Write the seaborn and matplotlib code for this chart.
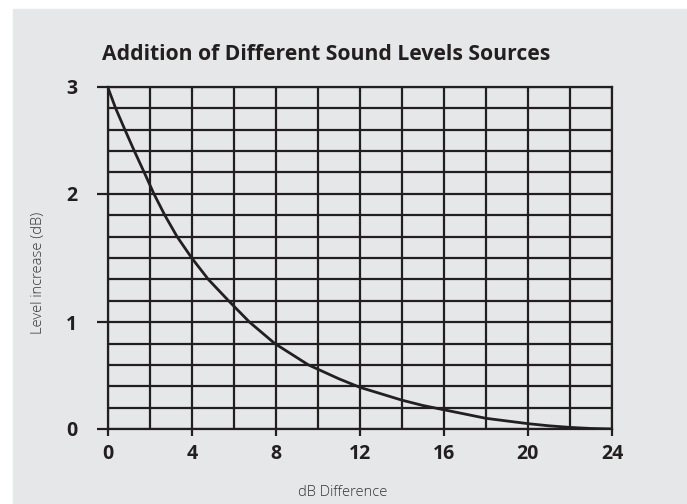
import numpy as np
import pandas as pd
import matplotlib.pyplot as plt
import seaborn as sns
from matplotlib.patches import Rectangle

# values
db_difference = [0, 0.38, 0.82, 1.27, 1.74, 2.2, 2.72, 3.3, 4.0, 4.79, 5.75, 6.75, 7.95, 9.55,
                 11, 12, 13, 14, 15, 16, 17, 18, 19, 20, 21, 22, 23, 24]
level_increase = [3.0, 2.8, 2.6, 2.4, 2.2, 2.0, 1.833, 1.667, 1.5, 1.333, 1.167, 1.0, 0.8, 0.6,
                  0.47, 0.39, 0.33, 0.27, 0.22, 0.18, 0.14, 0.10, 0.075, 0.05, 0.03, 0.015, 0.005, 0.0]

x_ticks = [0, 4, 8, 12, 16, 20, 24]
x_grid = [0, 2, 4, 6, 8, 10, 12, 14, 16, 18, 20, 22, 24]

# the printed y axis is not linear: 16 equal rows, labels 0,1,2,3 sit on rows 0,5,11,16
y_ticks = [0, 1, 2, 3]
y_rows = [0, 5, 11, 16]

ink = "#231f20"
panel = "#e6e7e8"

sns.set_theme(style="white")
plt.rcParams["font.family"] = ["Open Sans", "DejaVu Sans"]

df = pd.DataFrame({"diff": db_difference, "inc": level_increase})

fig = plt.figure(figsize=(6.87, 5.04), dpi=100)
fig.patch.set_facecolor("white")
fig.add_artist(Rectangle((13 / 687, 0), 1 - 13 / 687, 1 - 9 / 504,
                         transform=fig.transFigure, color=panel, zorder=-10))

ax = fig.add_axes([107.7 / 687, 75 / 504, (612 - 107.7) / 687, (429 - 87) / 504])
ax.set_facecolor(panel)

fwd = lambda v: np.interp(v, y_ticks, y_rows)
inv = lambda r: np.interp(r, y_rows, y_ticks)
ax.set_yscale("function", functions=(fwd, inv))

sns.lineplot(data=df, x="diff", y="inc", color=ink, lw=2.0, ax=ax, zorder=5)

ax.set_xlim(0, 24)
ax.set_ylim(0, 3)
ax.set_xticks(x_ticks)
ax.set_xticks(x_grid, minor=True)
ax.set_yticks(y_ticks)
ax.set_yticks(inv(np.arange(17)), minor=True)
ax.set_xticklabels([str(t) for t in x_ticks])
ax.set_yticklabels([str(t) for t in y_ticks])

ax.grid(which="both", color=ink, lw=1.6)
ax.tick_params(axis="y", which="major", length=8, width=1.6, color=ink, pad=14,
               labelsize=14, labelcolor=ink, left=True)
ax.tick_params(axis="x", which="major", length=5, width=1.6, color=ink, pad=6,
               labelsize=14, labelcolor=ink, bottom=True)
ax.tick_params(which="minor", length=0)
for lab in ax.get_xticklabels() + ax.get_yticklabels():
    lab.set_fontweight("bold")
for s in ax.spines.values():
    s.set_color(ink)
    s.set_linewidth(1.6)

ax.set_xlabel("")
ax.set_ylabel("")

fig.text(102 / 687, 1 - 60 / 504, "Addition of Different Sound Levels Sources",
         ha="left", va="baseline", fontsize=15.2, fontweight="bold", color=ink)
fig.text(38 / 687, 1 - 273 / 504, "Level increase (dB)", rotation=90,
         ha="center", va="center", fontsize=10.5, fontweight="light", color="#333333")
fig.text(342.5 / 687, 1 - 493 / 504, "dB Difference",
         ha="center", va="center", fontsize=10.5, fontweight="light", color="#333333")

fig.savefig("out.png", dpi=100, facecolor=fig.get_facecolor())
